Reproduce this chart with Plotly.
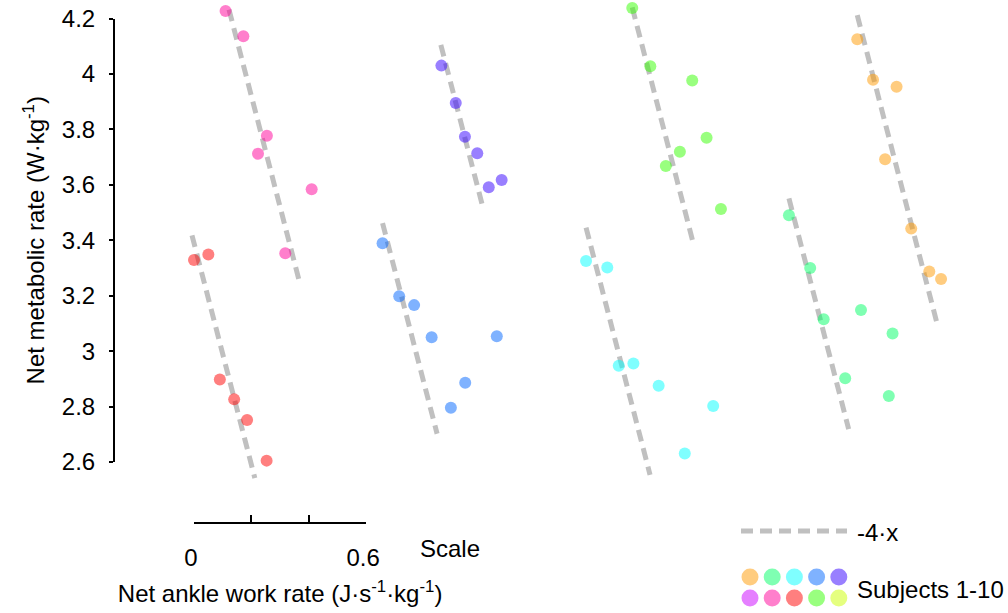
import colorsys
import plotly.graph_objects as go

# ---------------- data ----------------
# net ankle work rate (J/s/kg) relative to each subject's panel offset, and net metabolic rate (W/kg)
s1_work = [0.261, 0.316, 0.398, 0.358, 0.449, 0.512, 0.553]
s1_met = [4.125, 3.979, 3.954, 3.692, 3.442, 3.287, 3.260]
s2_work = [0.023, 0.097, 0.144, 0.274, 0.384, 0.219, 0.371]
s2_met = [3.490, 3.300, 3.115, 3.148, 3.064, 2.902, 2.838]
s3_work = [0.016, 0.090, 0.130, 0.181, 0.269, 0.459, 0.360]
s3_met = [3.325, 3.302, 2.947, 2.955, 2.875, 2.802, 2.631]
s4_work = [0.007, 0.065, 0.117, 0.178, 0.405, 0.295, 0.245]
s4_met = [3.389, 3.198, 3.166, 3.050, 3.054, 2.886, 2.796]
s5_work = [0.212, 0.262, 0.294, 0.337, 0.377, 0.422]
s5_met = [4.030, 3.895, 3.773, 3.714, 3.591, 3.617]
s7_work = [0.110, 0.172, 0.254, 0.223, 0.410, 0.318]
s7_met = [4.227, 4.136, 3.777, 3.712, 3.584, 3.353]
s8_work = [0.000, 0.050, 0.090, 0.140, 0.185, 0.253]
s8_met = [3.329, 3.349, 2.898, 2.826, 2.752, 2.605]
s9_work = [0.177, 0.240, 0.386, 0.436, 0.343, 0.294, 0.486]
s9_met = [4.238, 4.028, 3.976, 3.770, 3.719, 3.668, 3.513]

# reference line  y = -4*x + intercept, drawn over a work-rate span
line_intercept = {1: 5.256, 2: 3.643, 3: 3.51, 4: 3.49, 5: 4.945, 7: 4.72, 8: 3.39, 9: 4.948}
line_span = {1: (0.261, 0.543), 2: (0.023, 0.231), 3: (0.016, 0.239), 4: (0.007, 0.197),
             5: (0.210, 0.358), 7: (0.122, 0.368), 8: (-0.007, 0.212), 9: (0.177, 0.392)}
slope = -4

# horizontal panel offset of each subject (layout)
panel_offset = {1: 2.05, 2: 2.05, 3: 1.35, 4: 0.65, 5: 0.65, 7: 0.0, 8: 0.0, 9: 1.35}

subject_hue = {1: 36, 2: 144, 3: 180, 4: 216, 5: 252, 6: 288, 7: 324, 8: 0, 9: 108, 10: 72}
legend_rows = [[1, 2, 3, 4, 5], [6, 7, 8, 9, 10]]

y_ticks = [2.6, 2.8, 3.0, 3.2, 3.4, 3.6, 3.8, 4.0, 4.2]
y_tick_text = ["2.6", "2.8", "3", "3.2", "3.4", "3.6", "3.8", "4", "4.2"]
scale_ticks = [0, 0.2, 0.4, 0.6]
scale_tick_text = ["0", "", "", "0.6"]

subjects = {1: (s1_work, s1_met), 2: (s2_work, s2_met), 3: (s3_work, s3_met),
            4: (s4_work, s4_met), 5: (s5_work, s5_met), 7: (s7_work, s7_met),
            8: (s8_work, s8_met), 9: (s9_work, s9_met)}


def hue_rgb(h):
    r, g, b = colorsys.hsv_to_rgb(h / 360.0, 1, 1)
    return int(round(r * 255)), int(round(g * 255)), int(round(b * 255))


# ---------------- geometry ----------------
FIG_W, FIG_H = 1008, 613
L, R, T, B = 115, 8, 0, 0
PX_PER_X = 287.0
PX_PER_Y = 277.2
X0_PX = 194.0      # x pixel of work rate 0 on the scale bar
Y42_PX = 18.5      # y pixel of 4.2 W/kg
plot_w = FIG_W - L - R
plot_h = FIG_H - T - B
x_range = [(L - X0_PX) / PX_PER_X, (L + plot_w - X0_PX) / PX_PER_X]
y_top = 4.2 + (Y42_PX - T) / PX_PER_Y
y_range = [y_top - plot_h / PX_PER_Y, y_top]


def xpaper(px):
    return (px - L) / plot_w


def ypaper(py):
    return 1 - (py - T) / plot_h


def xfrac(v):
    return (v - x_range[0]) / (x_range[1] - x_range[0])


def yfrac(v):
    return (v - y_range[0]) / (y_range[1] - y_range[0])


FONT = "Liberation Sans, Arial, sans-serif"
LINE_COLOR = "rgb(192,192,192)"
DASH = "12px,7px"

fig = go.Figure()

# reference lines
for s in subjects:
    x0, x1 = line_span[s]
    xs = [x0 + panel_offset[s], x1 + panel_offset[s]]
    ys = [slope * x0 + line_intercept[s], slope * x1 + line_intercept[s]]
    fig.add_trace(go.Scatter(x=xs, y=ys, mode="lines",
                             line=dict(color=LINE_COLOR, width=5, dash=DASH),
                             showlegend=False, hoverinfo="skip"))

# subject points
for s, (w, m) in subjects.items():
    r, g, b = hue_rgb(subject_hue[s])
    fig.add_trace(go.Scatter(x=[v + panel_offset[s] for v in w], y=m, mode="markers",
                             marker=dict(size=12, color=f"rgb({r},{g},{b})", opacity=0.5,
                                         line=dict(width=0)),
                             showlegend=False, name=f"Subject {s}", cliponaxis=False))

# helper traces for visible axes
fig.add_trace(go.Scatter(x=[None], y=[None], xaxis="x", yaxis="y2", showlegend=False, hoverinfo="skip"))
fig.add_trace(go.Scatter(x=[None], y=[None], xaxis="x3", yaxis="y", showlegend=False, hoverinfo="skip"))

shapes = []
# legend: dashed line
shapes.append(dict(type="line", xref="paper", yref="paper", x0=xpaper(741), x1=xpaper(847),
                   y0=ypaper(531), y1=ypaper(531), line=dict(color=LINE_COLOR, width=5, dash=DASH)))
# legend: subject swatches
for ri, row in enumerate(legend_rows):
    for ci, s in enumerate(row):
        r, g, b = hue_rgb(subject_hue[s])
        cx = xpaper(750 + ci * 22.2)
        cy = ypaper(577 + ri * 21)
        shapes.append(dict(type="circle", xref="paper", yref="paper", xsizemode="pixel",
                           ysizemode="pixel", xanchor=cx, yanchor=cy, x0=-8.5, x1=8.5,
                           y0=-8.5, y1=8.5, fillcolor=f"rgba({r},{g},{b},0.5)",
                           line=dict(width=0)))

annotations = [
    dict(text="Scale", x=xpaper(450), y=ypaper(548), xref="paper", yref="paper",
         showarrow=False, xanchor="center", yanchor="middle", font=dict(size=24, color="black", family=FONT)),
    dict(text="-4·x", x=xpaper(855), y=ypaper(532), xref="paper", yref="paper",
         showarrow=False, xanchor="left", yanchor="middle", font=dict(size=24, color="black", family=FONT)),
    dict(text="Subjects 1-10", x=xpaper(855), y=ypaper(589), xref="paper", yref="paper",
         showarrow=False, xanchor="left", yanchor="middle", font=dict(size=24, color="black", family=FONT)),
]

fig.update_layout(
    template="none",
    width=FIG_W, height=FIG_H,
    margin=dict(l=L, r=R, t=T, b=B, pad=0, autoexpand=False),
    paper_bgcolor="white", plot_bgcolor="rgba(0,0,0,0)",
    font=dict(family=FONT, size=24, color="black"),
    showlegend=False,
    xaxis=dict(range=x_range, visible=False, domain=[0, 1], fixedrange=True, automargin=False),
    yaxis=dict(range=y_range, visible=False, domain=[0, 1], fixedrange=True, automargin=False),
    yaxis2=dict(range=[2.6, 4.2], domain=[yfrac(2.6), yfrac(4.2)], anchor="x", automargin=False,
                showline=True, linecolor="black", linewidth=2, ticks="outside", ticklen=4,
                tickwidth=2, tickcolor="black", tickvals=y_ticks, ticktext=y_tick_text,
                showgrid=False, zeroline=False, ticklabelstandoff=9, ticklabeloverflow="allow",
                tickfont=dict(size=24, family=FONT),
                title=dict(text="Net metabolic rate (W·kg<sup>-1</sup>)", standoff=10,
                           font=dict(size=24, family=FONT))),
    xaxis3=dict(range=[0, 0.6], domain=[xfrac(0), xfrac(0.6)], anchor="free", automargin=False,
                position=ypaper(523), showline=True, linecolor="black", linewidth=2,
                ticks="inside", ticklen=7, tickwidth=2, tickcolor="black",
                tickvals=scale_ticks, ticktext=scale_tick_text, showgrid=False, zeroline=False,
                ticklabelstandoff=13, ticklabelshift=-3, ticklabeloverflow="allow",
                tickfont=dict(size=24, family=FONT),
                title=dict(text="Net ankle work rate (J·s<sup>-1</sup>·kg<sup>-1</sup>)", standoff=14,
                           font=dict(size=24, family=FONT))),
    shapes=shapes,
    annotations=annotations,
)

# place the figure flush with the window corner (remove the page's default body margin)
fig.write_html("out.html", config={"displayModeBar": False},
               post_script="document.body.style.margin='0';")
